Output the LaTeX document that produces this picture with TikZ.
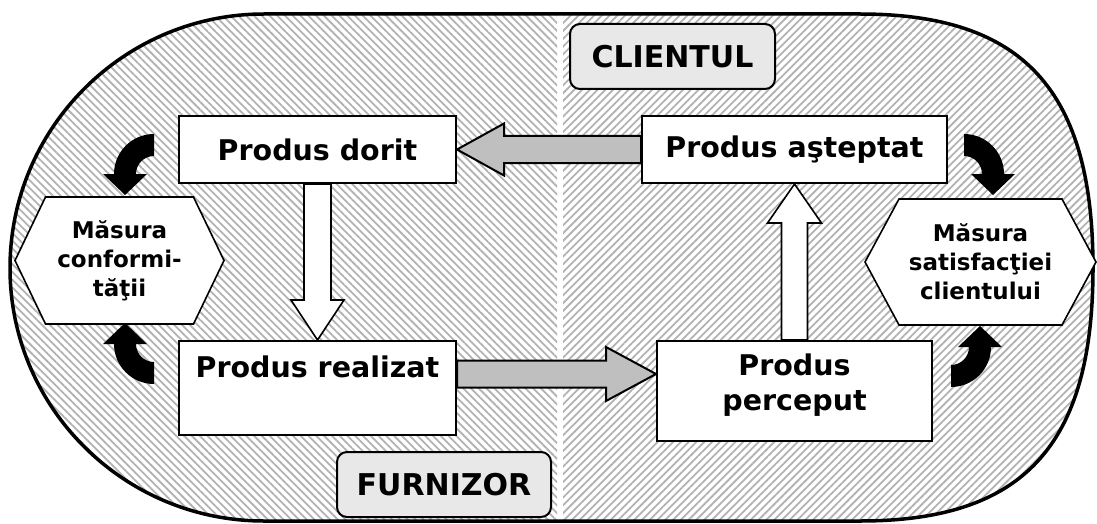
\documentclass[tikz,border=0pt]{standalone}
\usepackage{fontspec}
\setmainfont{DejaVu Sans}
\usetikzlibrary{calc,patterns.meta}
\pgfdeclarelayer{ground}
\pgfdeclarelayer{links}
\pgfsetlayers{ground,links,main}

\tikzset{
  boxfont/.style={font=\bfseries\fontsize{28.5}{35}\selectfont},
  stepbox/.style={boxfont, draw, line width=2pt, fill=white, inner sep=0pt, align=center},
  boxlabel/.style={boxfont, inner sep=0pt, align=center},
  sidetag/.style={draw, line width=2pt, fill=black!9, rounded corners=10pt, inner sep=0pt,
    font=\bfseries\fontsize{30}{36}\selectfont, minimum height=65pt},
  hexframe/.style={draw, line width=1.6pt, fill=white, line join=miter},
  hexlabel/.style={font=\bfseries\fontsize{23}{29}\selectfont, align=center, inner sep=0pt},
  grayflow/.style={draw, line width=2pt, fill=black!25, line join=miter},
  whiteflow/.style={draw, line width=1.6pt, fill=white, line join=miter},
  hatchleft/.style={pattern={Lines[angle=-45,distance=5.5pt,line width=1.8pt]}, pattern color=black!30},
  hatchright/.style={pattern={Lines[angle=45,distance=5.5pt,line width=1.8pt]}, pattern color=black!30},
  bendarrow/.pic={
    \fill (0,-40) arc[start angle=-90, end angle=-180, radius=40]
      -- (-51,0) -- (-29,21) -- (-7,0) -- (-18,0)
      arc[start angle=-180, end angle=-90, radius=18] -- cycle;
  },
}

\begin{document}
\begin{tikzpicture}[x=1pt,y=-1pt]
\useasboundingbox (0,0) rectangle (1097,524);

% process boxes
\node[stepbox, minimum width=277pt, minimum height=67pt] (dorit) at (317.5,149.5) {Produs dorit};
\node[stepbox, minimum width=305pt, minimum height=67pt] (asteptat) at (794.5,149.5) {Produs aşteptat};
\node[stepbox, minimum width=277pt, minimum height=94pt] (realizat) at (317.5,388) {};
\node[boxlabel] (realizattext) at ([yshift=21pt]realizat.center) {Produs realizat};
\node[stepbox, minimum width=275pt, minimum height=100pt] (perceput) at (794.5,391) {};
\node[boxlabel] (perceputtext) at ([yshift=6pt]perceput.center) {Produs\\perceput};

% side tags
\node[sidetag, minimum width=205pt] (client) at (672.5,56.5) {CLIENTUL};
\node[sidetag, minimum width=214pt] (furnizor) at (444,484.5) {FURNIZOR};

% measurement hexagons
\coordinate (conf) at (119.5,260.5);
\draw[hexframe] ($(conf)+(-74,-63.5)$) -- ($(conf)+(74,-63.5)$) -- ($(conf)+(104.5,0)$)
  -- ($(conf)+(74,63.5)$) -- ($(conf)+(-74,63.5)$) -- ($(conf)+(-104.5,0)$) -- cycle;
\node[hexlabel] (conftext) at (conf) {Măsura\\conformi-\\tăţii};

\coordinate (satisf) at (980.5,262);
\draw[hexframe] ($(satisf)+(-81.5,-63)$) -- ($(satisf)+(81.5,-63)$) -- ($(satisf)+(115.5,0)$)
  -- ($(satisf)+(81.5,63)$) -- ($(satisf)+(-81.5,63)$) -- ($(satisf)+(-115.5,0)$) -- cycle;
\node[hexlabel] (satisftext) at (satisf) {Măsura\\satisfacţiei\\clientului};

% curved black arrows into the hexagons
\pic at ($(dorit.west)+(-24,24.5)$) {bendarrow};
\pic[xscale=-1] at ($(asteptat.east)+(16,24.5)$) {bendarrow};
\pic[yscale=-1] at ($(realizat.north west)+(-24,4)$) {bendarrow};
\pic[xscale=-1,yscale=-1] at ($(perceput.north east)+(18,7)$) {bendarrow};

% block arrows between the boxes
\begin{pgfonlayer}{links}
\draw[grayflow] (dorit.east) -- ++(47,-26) -- ++(0,12.5)
  -- ([yshift=13.5pt]asteptat.west) -- ([yshift=-13.5pt]asteptat.west)
  -- ($(dorit.east)+(47,13.5)$) -- ++(0,12.5) -- cycle;
\coordinate (rtip) at ([yshift=17pt]perceput.west);
\draw[grayflow] (rtip) -- ++(-50,-27) -- ++(0,13.5)
  -- ($(realizat.east |- rtip)+(0,-13.5)$) -- ($(realizat.east |- rtip)+(0,13.5)$)
  -- ($(rtip)+(-50,13.5)$) -- ++(0,13.5) -- cycle;
\draw[whiteflow] (realizat.north) -- ++(-26.5,-40) -- ++(13,0)
  -- ([xshift=-13.5pt]dorit.south) -- ([xshift=13.5pt]dorit.south)
  -- ($(realizat.north)+(13.5,-40)$) -- ++(13,0) -- cycle;
\draw[whiteflow] (asteptat.south) -- ++(-27,39) -- ++(14,0)
  -- ([xshift=-13pt]perceput.north) -- ([xshift=13pt]perceput.north)
  -- ($(asteptat.south)+(13,39)$) -- ++(14,0) -- cycle;
\end{pgfonlayer}

% hatched field with its outline
\begin{pgfonlayer}{ground}
\begin{scope}
\clip (264,14) -- (860,14) .. controls (1023,14) and (1093,90) .. (1093,268)
  .. controls (1093,446) and (1023,521) .. (860,521) -- (264,521)
  .. controls (124,521) and (10,408) .. (10,268)
  .. controls (10,128) and (124,14) .. (264,14) -- cycle;
\fill[hatchleft] (0,0) rectangle (557,524);
\fill[hatchright] (563,0) rectangle (1097,524);
\end{scope}
\draw[line width=3.5pt] (264,14) -- (860,14) .. controls (1023,14) and (1093,90) .. (1093,268)
  .. controls (1093,446) and (1023,521) .. (860,521) -- (264,521)
  .. controls (124,521) and (10,408) .. (10,268)
  .. controls (10,128) and (124,14) .. (264,14) -- cycle;
\end{pgfonlayer}
\end{tikzpicture}
\end{document}
